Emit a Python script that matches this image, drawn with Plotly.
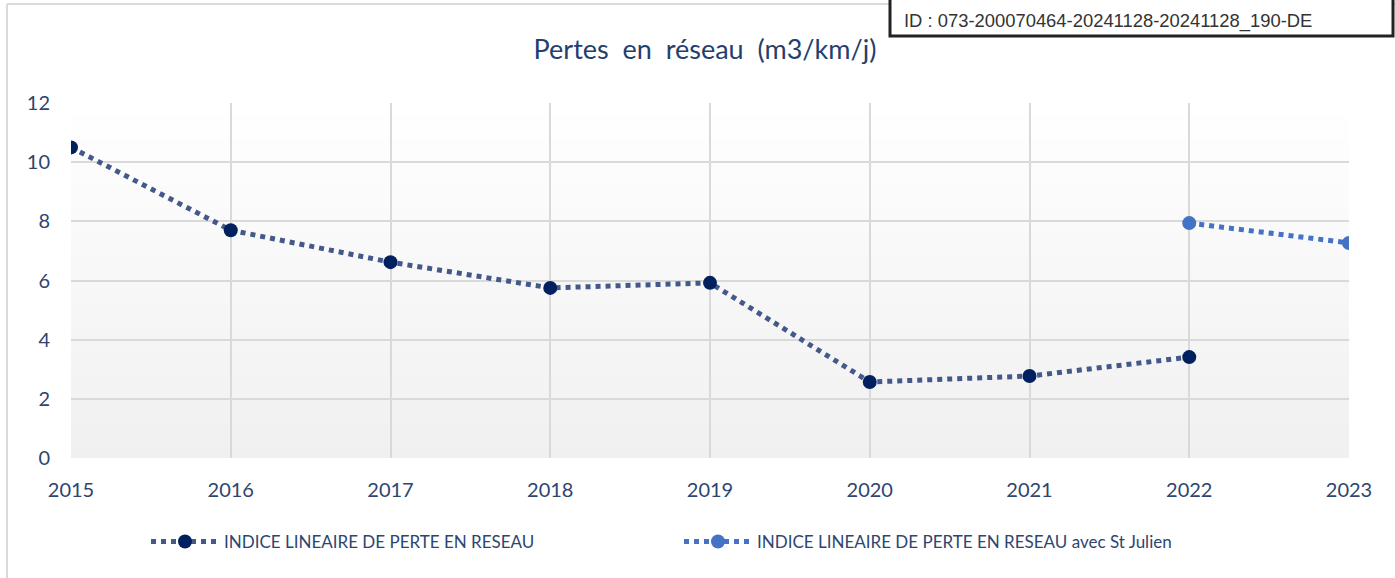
import plotly.graph_objects as go

years = [2015, 2016, 2017, 2018, 2019, 2020, 2021, 2022, 2023]
indice = [10.5, 7.7, 6.62, 5.75, 5.92, 2.57, 2.77, 3.41, None]
indice_st_julien = [None, None, None, None, None, None, None, 7.94, 7.27]
series_names = ["INDICE LINEAIRE DE PERTE EN RESEAU",
                "INDICE LINEAIRE DE PERTE EN RESEAU avec St Julien"]
title_text = "Pertes  en  réseau  (m3/km/j)"
id_text = "ID : 073-200070464-20241128-20241128_190-DE"

W, H = 1395, 578
ML, MR, MT, MB = 71, 46, 103, 120
PW, PH = W - ML - MR, H - MT - MB


def px(x):
    return (x - ML) / PW


def py(y):
    return (H - MB - y) / PH


font_main = "Lato, 'Open Sans', sans-serif"
txt_col = "#2E4570"

fig = go.Figure()
fig.add_trace(go.Scatter(
    x=years, y=indice, name=series_names[0], mode="lines+markers",
    line=dict(color="#44598A", width=5, dash="dot"),
    marker=dict(color="#002060", size=14),
))
fig.add_trace(go.Scatter(
    x=years, y=indice_st_julien, name=series_names[1], mode="lines+markers",
    line=dict(color="#4472C4", width=5, dash="dot"),
    marker=dict(color="#4472C4", size=14),
))

shapes = []
# gradient background of plot area
n = 30
for i in range(n):
    t = i / (n - 1)
    v = int(round(255 - 15 * t))
    shapes.append(dict(type="rect", xref="x domain", yref="y domain",
                       x0=0, x1=1, y0=1 - (i + 1) / n, y1=1 - i / n,
                       fillcolor=f"rgb({v},{v},{v})", line=dict(width=0),
                       layer="below"))
# chart border (left and top)
shapes.append(dict(type="line", xref="paper", yref="paper",
                   x0=px(7), x1=px(7), y0=py(4), y1=py(H + 5),
                   line=dict(color="#D9D9D9", width=2)))
shapes.append(dict(type="line", xref="paper", yref="paper",
                   x0=px(7), x1=px(W + 5), y0=py(4), y1=py(4),
                   line=dict(color="#D9D9D9", width=2)))
# ID box
shapes.append(dict(type="rect", xref="paper", yref="paper",
                   x0=px(890), x1=px(1393), y0=py(36), y1=py(-5),
                   fillcolor="white", line=dict(color="#222222", width=3)))

fig.update_layout(
    width=W, height=H,
    margin=dict(l=ML, r=MR, t=MT, b=MB),
    paper_bgcolor="white",
    plot_bgcolor="white",
    title=dict(text=title_text, x=705 / W, xanchor="center",
               y=1 - 50 / H, yanchor="middle",
               font=dict(family=font_main, size=27, color="#243F6E")),
    xaxis=dict(
        tickmode="array", tickvals=years, ticktext=[str(y) for y in years],
        range=[2015, 2023], showgrid=True, gridcolor="#D9D9D9", gridwidth=2,
        zeroline=False, showline=False, ticks="",
        tickfont=dict(family=font_main, size=20, color=txt_col),
        ticklabelstandoff=18,
    ),
    yaxis=dict(
        range=[0, 12], tickvals=[0, 2, 4, 6, 8, 10, 12],
        showgrid=True, gridcolor="#D9D9D9", gridwidth=2,
        zeroline=False, showline=False, ticks="",
        tickfont=dict(family=font_main, size=20, color=txt_col),
        ticklabelstandoff=20,
    ),
    legend=dict(orientation="h", x=px(146), xanchor="left",
                y=py(542), yanchor="middle",
                font=dict(family=font_main, size=17, color=txt_col),
                itemwidth=68, entrywidthmode="pixels", entrywidth=450,
                bgcolor="rgba(0,0,0,0)"),
    shapes=shapes,
    annotations=[dict(text=id_text, xref="paper", yref="paper",
                      x=px(902), y=py(21), xanchor="left", yanchor="middle",
                      showarrow=False,
                      font=dict(family="'Liberation Sans', Arial, sans-serif",
                                size=18.4, color="#333333"))],
)

fig.write_html("out.html",
               config={"displayModeBar": False},
               post_script="document.body.style.margin='0';document.body.style.padding='0';")
